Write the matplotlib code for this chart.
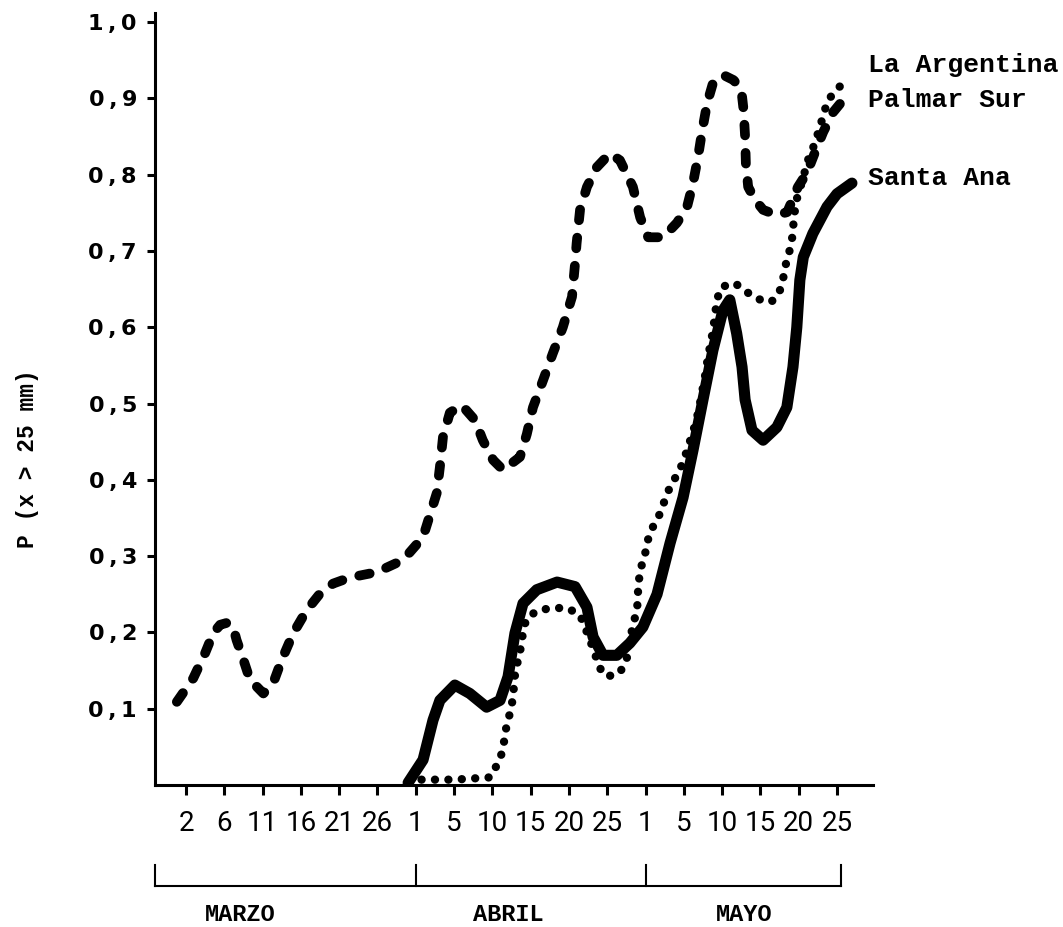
import matplotlib
matplotlib.use('Agg')
import matplotlib.pyplot as plt
import matplotlib.transforms as mtransforms

# x positions are in pentad-index units (0 = "2 de marzo", 17 = "25 de mayo")
tick_labels = ['2', '6', '11', '16', '21', '26',
               '1', '5', '10', '15', '20', '25',
               '1', '5', '10', '15', '20', '25']
months = ['MARZO', 'ABRIL', 'MAYO']
series_names = ['La Argentina', 'Palmar Sur', 'Santa Ana']

# Palmar Sur (dashed)
palmar_x = [-0.24, 0.19, 0.5, 0.71, 0.89, 1.1, 1.23, 1.32, 1.5, 1.67, 2.02, 2.28, 2.5, 2.8,
            3.15, 3.5, 3.84, 4.28, 4.98, 5.67, 6.19, 6.55, 6.63, 6.71, 6.89, 7.2, 7.55,
            7.75, 8.02, 8.28, 8.72, 8.9, 9.06, 9.32, 9.58, 9.84, 10.08, 10.16, 10.2,
            10.29, 10.47, 10.73, 11.07, 11.33, 11.67, 11.86, 12.07, 12.46, 12.82, 13.08,
            13.24, 13.37, 13.48, 13.61, 13.76, 14.02, 14.3, 14.5, 14.56, 14.6, 14.62,
            14.68, 14.86, 15.07, 15.43, 15.7, 15.98, 16.22, 16.43, 16.64, 16.9, 17.16, 17.39]
palmar_y = [0.109, 0.14, 0.173, 0.199, 0.21, 0.213, 0.207, 0.19, 0.164, 0.138, 0.12, 0.134,
            0.164, 0.199, 0.229, 0.251, 0.264, 0.272, 0.279, 0.295, 0.325, 0.383, 0.417,
            0.456, 0.488, 0.498, 0.478, 0.452, 0.426, 0.413, 0.43, 0.46, 0.495, 0.53,
            0.566, 0.60, 0.64, 0.684, 0.71, 0.754, 0.784, 0.81, 0.828, 0.819, 0.784,
            0.744, 0.718, 0.718, 0.737, 0.757, 0.789, 0.823, 0.858, 0.894, 0.92, 0.931,
            0.924, 0.912, 0.885, 0.85, 0.815, 0.784, 0.767, 0.754, 0.747, 0.751, 0.784,
            0.803, 0.83, 0.856, 0.882, 0.898, 0.907]

# La Argentina (dotted)
arg_x = [6.15, 7.0, 7.94, 8.15, 8.28, 8.33, 8.41, 8.5, 8.55, 8.59, 8.67, 8.77, 8.8, 8.9,
         9.19, 9.58, 9.95, 10.29, 10.55, 10.81, 10.99, 11.33, 11.51, 11.67, 11.78, 11.8,
         11.85, 11.98, 12.06, 12.19, 12.38, 12.5, 12.64, 12.85, 12.98, 13.11, 13.24, 13.34,
         13.42, 13.55, 13.63, 13.73, 13.81, 13.86, 13.99, 14.33, 14.65, 14.94, 15.28,
         15.49, 15.59, 15.67, 15.77, 15.85, 15.87, 15.96, 16.1, 16.24, 16.42, 16.55,
         16.76, 17.0, 17.28]
arg_y = [0.007, 0.007, 0.01, 0.029, 0.046, 0.068, 0.085, 0.102, 0.122, 0.144, 0.164, 0.186,
         0.203, 0.219, 0.229, 0.232, 0.232, 0.223, 0.19, 0.153, 0.142, 0.147, 0.166, 0.21,
         0.229, 0.251, 0.28, 0.301, 0.321, 0.338, 0.356, 0.373, 0.391, 0.409, 0.423, 0.443,
         0.463, 0.481, 0.5, 0.535, 0.561, 0.587, 0.613, 0.636, 0.653, 0.658, 0.646, 0.637,
         0.633, 0.645, 0.663, 0.684, 0.702, 0.723, 0.744, 0.77, 0.793, 0.819, 0.841,
         0.862, 0.898, 0.911, 0.929]

# Santa Ana (solid)
ana_x = [5.8, 6.19, 6.45, 6.63, 7.02, 7.41, 7.85, 8.2, 8.41, 8.59, 8.8, 9.16, 9.69, 10.16,
         10.47, 10.63, 10.89, 11.25, 11.59, 11.93, 12.3, 12.64, 12.98, 13.24, 13.5, 13.76,
         14.02, 14.2, 14.38, 14.52, 14.6, 14.78, 15.07, 15.43, 15.69, 15.85, 15.95, 16.03,
         16.12, 16.37, 16.74, 17.0, 17.39]
ana_y = [0.003, 0.033, 0.085, 0.111, 0.131, 0.12, 0.102, 0.111, 0.142, 0.199, 0.238, 0.256,
         0.266, 0.26, 0.233, 0.194, 0.17, 0.17, 0.186, 0.207, 0.25, 0.317, 0.377, 0.439,
         0.505, 0.57, 0.622, 0.636, 0.592, 0.548, 0.505, 0.465, 0.452, 0.469, 0.495, 0.548,
         0.6, 0.662, 0.692, 0.723, 0.758, 0.775, 0.789]

mono = ['Liberation Mono', 'DejaVu Sans Mono']

fig = plt.figure(figsize=(10.63, 9.27), dpi=100)
ax = fig.add_axes([155 / 1063, 1 - 785 / 927, 718 / 1063, 772 / 927])

ax.plot(palmar_x, palmar_y, color='black', lw=7, linestyle=(0, (1.1, 1.8)),
        dash_capstyle='round', solid_capstyle='round', dash_joinstyle='round')
ax.plot(arg_x, arg_y, color='black', lw=6, linestyle=(0, (0.01, 1.6)),
        dash_capstyle='round')
ax.plot(ana_x, ana_y, color='black', lw=8, solid_capstyle='round', solid_joinstyle='round')

ax.set_xlim(-0.81, 17.94)
ax.set_ylim(0, 1.012)

for s in ['top', 'right']:
    ax.spines[s].set_visible(False)
for s in ['left', 'bottom']:
    ax.spines[s].set_linewidth(2.2)

ax.set_xticks(range(len(tick_labels)))
ax.set_xticklabels(tick_labels, family='Roboto', fontsize=20)
yt = [i / 10 for i in range(1, 11)]
ax.set_yticks(yt)
ax.set_yticklabels(['%d\u2009,\u2009%d' % (int(v), round(v * 10) % 10) for v in yt],
                   fontsize=16, fontweight='bold')
ax.tick_params(axis='x', length=7, width=2.2, pad=11)
ax.tick_params(axis='y', length=6, width=2.2, pad=7)

# month bracket under the axis
tr = mtransforms.blended_transform_factory(ax.transData, ax.transAxes)
bx = [-0.81, 6, 12, 17.1]
ax.plot([bx[0], bx[-1]], [-0.131, -0.131], color='black', lw=1.5, transform=tr, clip_on=False)
for b in bx:
    ax.plot([b, b], [-0.131, -0.103], color='black', lw=1.5, transform=tr, clip_on=False)
for m, xc in zip(months, [1.41, 8.41, 14.57]):
    ax.text(xc, -0.168, m, transform=tr, ha='center', va='center',
            family=mono, fontweight='bold', fontsize=17)

# series labels at the line ends
for name, yv in zip(series_names, [0.944, 0.898, 0.796]):
    ax.text(17.81, yv, name, ha='left', va='center', family=mono,
            fontweight='bold', fontsize=19, clip_on=False)

fig.text(0.026, 1 - 459 / 927, 'P (x > 25 mm)', rotation=90, ha='center', va='center',
         family=mono, fontweight='bold', fontsize=16.5)

fig.savefig('out.png', dpi=100)
